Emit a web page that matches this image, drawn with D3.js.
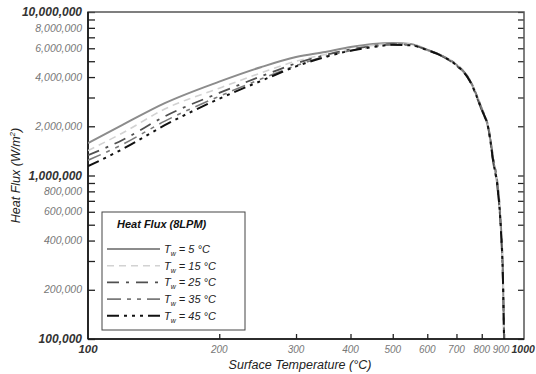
<!DOCTYPE html>
<html>
<head>
<meta charset="utf-8">
<script src="https://cdn.jsdelivr.net/npm/d3@7"></script>
<style>
  body { margin: 0; background: #fff; }
  svg { font-family: "Liberation Sans", Arial, sans-serif; }
</style>
</head>
<body>
<div id="chart"></div>
<script>
// surface temperature (°C) sample points
const temps = [100, 120, 150, 200, 250, 300, 350, 400, 450, 500, 550, 600, 650, 700, 750, 800, 830, 850, 870, 885, 895, 900];

// heat flux (W/m2) per water temperature
const flux5  = [1.58e6, 2.04e6, 2.77e6, 3.75e6, 4.61e6, 5.3e6, 5.7e6, 6.1e6, 6.37e6, 6.46e6, 6.38e6, 5.86e6, 5.38e6, 4.75e6, 3.84e6, 2.55e6, 1.9e6, 1.24e6, 8.5e5, 4.8e5, 2.3e5, 1.0e5];
const flux15 = [1.42e6, 1.82e6, 2.55e6, 3.42e6, 4.25e6, 5.0e6, 5.5e6, 5.95e6, 6.25e6, 6.4e6, 6.36e6, 5.9e6, 5.4e6, 4.8e6, 3.9e6, 2.6e6, 1.95e6, 1.28e6, 8.8e5, 5.0e5, 2.4e5, 1.0e5];
const flux25 = [1.33e6, 1.65e6, 2.3e6, 3.2e6, 4.05e6, 4.85e6, 5.45e6, 5.9e6, 6.2e6, 6.35e6, 6.3e6, 5.85e6, 5.35e6, 4.7e6, 3.8e6, 2.5e6, 1.88e6, 1.2e6, 8.2e5, 4.6e5, 2.2e5, 1.0e5];
const flux35 = [1.24e6, 1.55e6, 2.15e6, 3.05e6, 3.9e6, 4.7e6, 5.35e6, 5.8e6, 6.15e6, 6.3e6, 6.28e6, 5.88e6, 5.4e6, 4.78e6, 3.88e6, 2.58e6, 1.95e6, 1.3e6, 9.0e5, 5.2e5, 2.5e5, 1.0e5];
const flux45 = [1.14e6, 1.45e6, 2.03e6, 2.95e6, 3.8e6, 4.65e6, 5.3e6, 5.8e6, 6.1e6, 6.3e6, 6.25e6, 5.84e6, 5.36e6, 4.72e6, 3.82e6, 2.52e6, 1.9e6, 1.22e6, 8.4e5, 4.7e5, 2.25e5, 1.0e5];

const seriesNames = ["5", "15", "25", "35", "45"];

const yTickLabels = [1e5, 2e5, 4e5, 6e5, 8e5, 1e6, 2e6, 4e6, 6e6, 8e6, 1e7];
const xTickLabels = [100, 200, 300, 400, 500, 600, 700, 800, 900, 1000];

const W = 536, H = 374;
const margin = { top: 12, right: 12, bottom: 35, left: 88 };
const width = W - margin.left - margin.right;
const height = H - margin.top - margin.bottom;

const svg = d3.select("#chart").append("svg")
  .attr("width", W).attr("height", H);
const g = svg.append("g")
  .attr("transform", "translate(" + margin.left + "," + margin.top + ")");

const x = d3.scaleLog().domain([100, 1000]).range([0, width]);
const y = d3.scaleLog().domain([1e5, 1e7]).range([height, 0]);

// minor ticks for the y axis (every 1..9 of each decade)
const yMinor = [];
for (let p = 5; p <= 6; p++) {
  for (let m = 1; m <= 9; m++) yMinor.push(m * Math.pow(10, p));
}
yMinor.push(1e7);

const fmt = d3.format(",");
const major = v => v === 1e5 || v === 1e6 || v === 1e7;
const xMajor = v => v === 100 || v === 1000;

// left axis
g.append("g")
  .call(d3.axisRight(y).tickValues(yMinor).tickSize(7).tickFormat(""))
  .call(s => s.select(".domain").remove())
  .selectAll("line").attr("stroke", "#222").attr("stroke-width", 1.3);

g.selectAll(".ylab").data(yTickLabels).enter().append("text")
  .attr("x", -6).attr("y", d => y(d)).attr("dy", "0.35em")
  .attr("text-anchor", "end")
  .style("font-style", "italic")
  .style("font-size", d => major(d) ? "12px" : "10.5px")
  .style("font-weight", d => major(d) ? "bold" : "normal")
  .attr("fill", d => major(d) ? "#333" : "#777")
  .text(d => fmt(d));

// right axis
g.append("g")
  .attr("transform", "translate(" + width + ",0)")
  .call(d3.axisLeft(y).tickValues(yMinor).tickSize(6).tickFormat(""))
  .call(s => s.select(".domain").remove())
  .selectAll("line").attr("stroke", "#222").attr("stroke-width", 1.2);

// bottom axis
g.append("g")
  .attr("transform", "translate(0," + height + ")")
  .call(d3.axisTop(x).tickValues(xTickLabels.slice(1, -1)).tickSize(5).tickFormat(""))
  .call(s => s.select(".domain").remove())
  .selectAll("line").attr("stroke", "#222").attr("stroke-width", 1.3);

g.selectAll(".xlab").data(xTickLabels).enter().append("text")
  .attr("x", d => d === 1000 ? x(d) - 12.5 : (d === 900 ? x(d) - 3 : x(d)))
  .attr("y", height + 14)
  .attr("text-anchor", d => d === 1000 ? "start" : "middle")
  .style("font-style", "italic")
  .style("font-size", d => d === 1000 ? "10.5px" : (d === 100 ? "11.5px" : "10px"))
  .style("font-weight", d => xMajor(d) ? "bold" : "normal")
  .attr("fill", d => xMajor(d) ? "#333" : "#777")
  .text(d => d);

// frame
g.append("rect")
  .attr("width", width).attr("height", height)
  .attr("fill", "none").attr("stroke", "#555").attr("stroke-width", 1.5);
g.append("line").attr("x1", 0).attr("x2", 0).attr("y1", 0).attr("y2", height)
  .attr("stroke", "#111").attr("stroke-width", 1.6);
g.append("line").attr("x1", 0).attr("x2", width).attr("y1", height).attr("y2", height)
  .attr("stroke", "#111").attr("stroke-width", 1.6);

// series
const styles = [
  { color: "#8c8c8c", dash: null, w: 2 },
  { color: "#d2d2d2", dash: "7,5", w: 1.6 },
  { color: "#505050", dash: "12,7,3,7", w: 1.8 },
  { color: "#7a7a7a", dash: "14,6,4,6,4,6", w: 1.6 },
  { color: "#111111", dash: "12,5,3,5,3,5,3,5", w: 2 }
];
const dataReady = [flux5, flux15, flux25, flux35, flux45].map((vals, i) => ({
  name: seriesNames[i],
  values: temps.map((t, j) => ({ t: t, q: vals[j] }))
}));

const line = d3.line()
  .x(d => x(d.t))
  .y(d => y(d.q))
  .curve(d3.curveMonotoneX);

g.append("defs").append("clipPath").attr("id", "clip")
  .append("rect").attr("width", width).attr("height", height);

g.append("g").attr("clip-path", "url(#clip)")
  .selectAll("path").data(dataReady).enter().append("path")
  .attr("d", d => line(d.values))
  .attr("fill", "none")
  .attr("stroke", (d, i) => styles[i].color)
  .attr("stroke-width", (d, i) => styles[i].w)
  .attr("stroke-dasharray", (d, i) => styles[i].dash);

// legend
const lg = svg.append("g").attr("transform", "translate(102,212)");
lg.append("rect").attr("width", 143).attr("height", 118)
  .attr("fill", "#fff").attr("stroke", "#444").attr("stroke-width", 1);
lg.append("text").attr("x", 15).attr("y", 16)
  .style("font-style", "italic").style("font-weight", "bold").style("font-size", "11px")
  .attr("fill", "#111").text("Heat Flux (8LPM)");

const items = lg.selectAll(".item").data(dataReady).enter().append("g")
  .attr("transform", (d, i) => "translate(0," + (37 + i * 16.7) + ")");
items.append("line")
  .attr("x1", 5).attr("x2", 58).attr("y1", 0).attr("y2", 0)
  .attr("stroke", (d, i) => styles[i].color)
  .attr("stroke-width", (d, i) => styles[i].w)
  .attr("stroke-dasharray", (d, i) => styles[i].dash);
const lt = items.append("text").attr("x", 62).attr("y", 4)
  .style("font-style", "italic").style("font-size", "11px").attr("fill", "#222");
lt.append("tspan").text("T");
lt.append("tspan").attr("dy", 3).style("font-size", "7px").text("w");
lt.append("tspan").attr("dy", -3).text(d => " = " + d.name + " °C");

// axis titles
svg.append("text")
  .attr("transform", "translate(20," + (margin.top + height / 2) + ") rotate(-90)")
  .attr("text-anchor", "middle")
  .style("font-style", "italic").style("font-size", "12.5px").attr("fill", "#222")
  .call(t => {
    t.append("tspan").text("Heat Flux (W/m");
    t.append("tspan").attr("dy", -5).style("font-size", "8px").text("2");
    t.append("tspan").attr("dy", 5).text(")");
  });

svg.append("text")
  .attr("x", 300).attr("y", 369)
  .attr("text-anchor", "middle")
  .style("font-style", "italic").style("font-size", "12.5px").attr("fill", "#222")
  .text("Surface Temperature (°C)");
</script>
</body>
</html>
